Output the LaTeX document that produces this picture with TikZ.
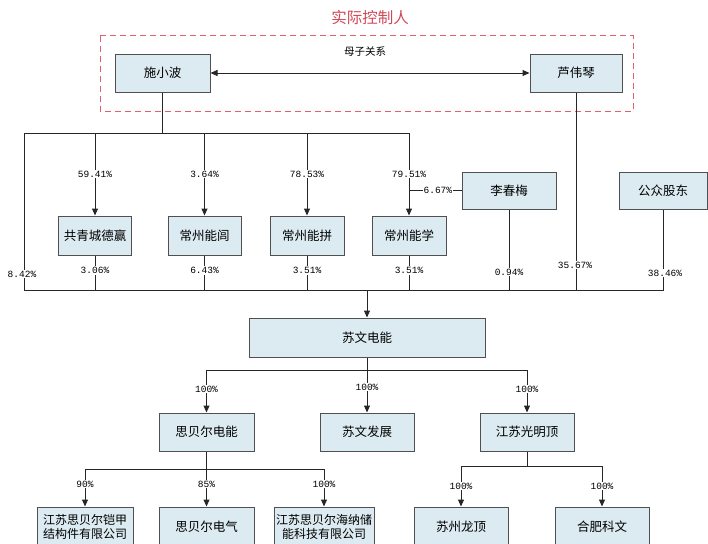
\documentclass[tikz,border=0pt]{standalone}
\usepackage{fontspec}
\setmainfont{Noto Sans CJK SC}
\newfontfamily\pctfont{Liberation Mono}
\usetikzlibrary{arrows.meta}
\definecolor{boxfill}{HTML}{DCEBF2}
\definecolor{boxline}{HTML}{505050}
\definecolor{ctrlred}{HTML}{D04858}
\definecolor{dashred}{HTML}{E06070}
\tikzset{
  box/.style={draw=boxline,fill=boxfill,line width=1pt,inner sep=1pt,font=\fontsize{12.5}{13}\selectfont,align=center},
  twoline/.style={inner sep=0pt,font=\fontsize{12}{13.5}\selectfont},
  conn/.style={draw=black!85,line width=1pt},
  arr/.style={conn,-{Triangle[length=7pt,width=6pt]}},
  pct/.style={fill=white,inner sep=1pt,font=\pctfont\fontsize{9.5}{10}\selectfont},
}
\begin{document}
\begin{tikzpicture}[x=1pt,y=-1pt]
\useasboundingbox (0,0) rectangle (708,543);
\clip (0,0) rectangle (708,543);
\fill[white] (0,0) rectangle (708,543);
% title and dashed frame
\node[text=ctrlred,font=\fontsize{15.5}{17}\selectfont] (title) at (370,18) {实际控制人};
\draw[dashred,line width=1pt,dash pattern=on 6pt off 4pt] (100,36) rectangle (633,111);
% boxes
\node[box,minimum width=95pt,minimum height=38pt] (shi) at (162.5,73) {施小波};
\node[box,minimum width=92pt,minimum height=38pt] (lu) at (576,73) {芦伟琴};
\node[box,minimum width=73pt,minimum height=39pt] (gqc) at (95,235.5) {共青城德赢};
\node[box,minimum width=73pt,minimum height=39pt] (czl) at (204.5,235.5) {常州能闾};
\node[box,minimum width=74pt,minimum height=39pt] (czp) at (307,235.5) {常州能拼};
\node[box,minimum width=74pt,minimum height=39pt] (czx) at (409,235.5) {常州能学};
\node[box,minimum width=94pt,minimum height=37pt] (lcm) at (509,190.5) {李春梅};
\node[box,minimum width=88pt,minimum height=37pt] (gz) at (663,190.5) {公众股东};
\node[box,minimum width=236pt,minimum height=39pt] (swdn) at (367,337.5) {苏文电能};
\node[box,minimum width=95pt,minimum height=38pt] (sbedn) at (206.5,432) {思贝尔电能};
\node[box,minimum width=94pt,minimum height=38pt] (swfz) at (367,432) {苏文发展};
\node[box,minimum width=94pt,minimum height=38pt] (gmd) at (527,432) {江苏光明顶};
\node[box,twoline,minimum width=96pt,minimum height=40pt] (kj) at (85,527) {江苏思贝尔铠甲\\结构件有限公司};
\node[box,minimum width=95pt,minimum height=40pt] (sbedq) at (206.5,527) {思贝尔电气};
\node[box,twoline,minimum width=100pt,minimum height=40pt] (hn) at (324,527) {江苏思贝尔海纳储\\能科技有限公司};
\node[box,minimum width=94pt,minimum height=40pt] (szld) at (461,527) {苏州龙顶};
\node[box,minimum width=94pt,minimum height=40pt] (hfkw) at (602,527) {合肥科文};
% parent-son relation
\draw[conn,{Triangle[length=7pt,width=6pt]}-{Triangle[length=7pt,width=6pt]}] (shi.east) -- (lu.west);
\node[font=\fontsize{10.5}{12}\selectfont] (mz) at (365,52) {母子关系};
% top bar
\coordinate (tl) at (24,133);
\coordinate (tr) at (409,133);
\coordinate (bl) at (24,290);
\coordinate (br) at (663,290);
\draw[conn] (shi.south) -- (shi.south |- tl);
\draw[conn] (bl) -- (tl) -- (tr);
\node[pct] (p842) at (22,274) {8.42\%};
\draw[arr] (gqc.north |- tl) -- node[pct,pos=0.5] (p5941) {59.41\%} (gqc.north);
\draw[arr] (czl.north |- tl) -- node[pct,pos=0.5] (p364) {3.64\%} (czl.north);
\draw[arr] (czp.north |- tl) -- node[pct,pos=0.5] (p7853) {78.53\%} (czp.north);
\draw[arr] (tr) -- node[pct,pos=0.5] (p7951) {79.51\%} (czx.north);
\draw[conn] (lcm.west) -- node[pct,pos=0.45] (p667) {6.67\%} (czx.north |- lcm.west);
% bottom bar
\draw[conn] (bl) -- (br) -- (gz.south);
\draw[conn] (gqc.south) -- node[pct,pos=0.43] (p306) {3.06\%} (gqc.south |- bl);
\draw[conn] (czl.south) -- node[pct,pos=0.43] (p643) {6.43\%} (czl.south |- bl);
\draw[conn] (czp.south) -- node[pct,pos=0.43] (p351a) {3.51\%} (czp.south |- bl);
\draw[conn] (czx.south) -- node[pct,pos=0.43] (p351b) {3.51\%} (czx.south |- bl);
\draw[conn] (lcm.south) -- (lcm.south |- bl);
\node[pct] (p094) at (509,272) {0.94\%};
\draw[conn] (lu.south) -- (lu.south |- bl);
\node[pct] (p3567) at (575,265) {35.67\%};
\node[pct] (p3846) at (665,273) {38.46\%};
\draw[arr] (swdn.north |- bl) -- (swdn.north);
% level 2
\coordinate (m) at (367,370);
\draw[conn] (swdn.south) -- (m);
\draw[conn] (sbedn.north |- m) -- (gmd.north |- m);
\draw[arr] (sbedn.north |- m) -- node[pct,pos=0.45] (q1) {100\%} (sbedn.north);
\draw[arr] (m) -- node[pct,pos=0.4] (q2) {100\%} (swfz.north);
\draw[arr] (gmd.north |- m) -- node[pct,pos=0.45] (q3) {100\%} (gmd.north);
% level 3 left
\coordinate (n) at (206.5,469);
\draw[conn] (sbedn.south) -- (n);
\draw[conn] (kj.north |- n) -- (hn.north |- n);
\draw[arr] (kj.north |- n) -- node[pct,pos=0.4] (r1) {90\%} (kj.north);
\draw[arr] (n) -- node[pct,pos=0.4] (r2) {85\%} (sbedq.north);
\draw[arr] (hn.north |- n) -- node[pct,pos=0.4] (r3) {100\%} (hn.north);
% level 3 right
\coordinate (k) at (527,466);
\draw[conn] (gmd.south) -- (k);
\draw[conn] (szld.north |- k) -- (hfkw.north |- k);
\draw[arr] (szld.north |- k) -- node[pct,pos=0.5] (s1) {100\%} (szld.north);
\draw[arr] (hfkw.north |- k) -- node[pct,pos=0.5] (s2) {100\%} (hfkw.north);
\end{tikzpicture}
\end{document}
